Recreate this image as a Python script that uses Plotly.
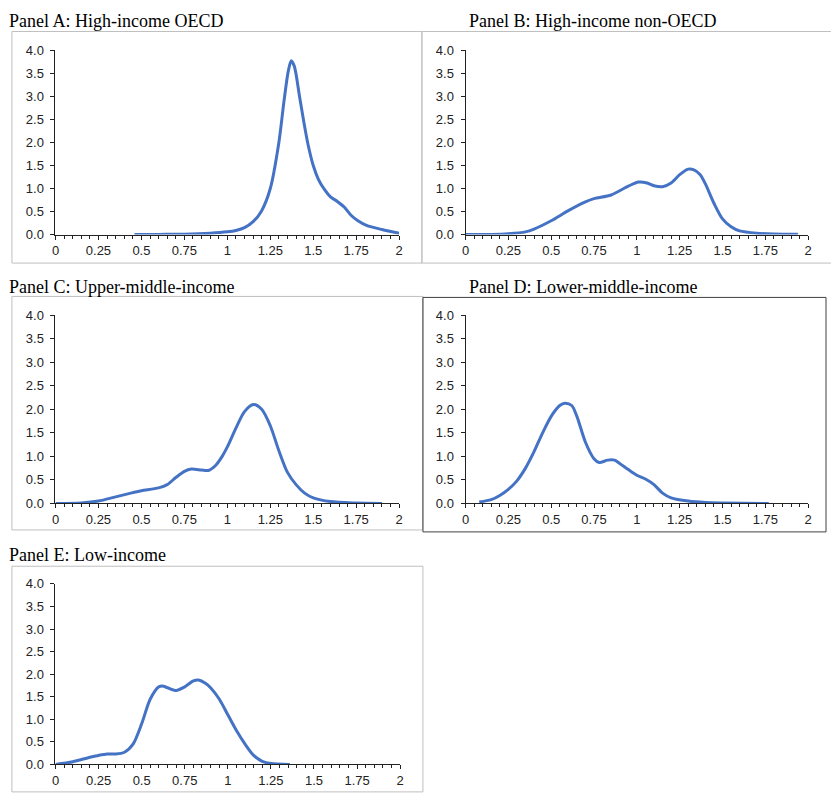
import plotly.graph_objects as go

W, H = 831, 795

# ---------------- data ----------------
panel_titles = [
    "Panel A: High-income OECD",
    "Panel B: High-income non-OECD",
    "Panel C: Upper-middle-income",
    "Panel D: Lower-middle-income",
    "Panel E: Low-income",
]

a_x = [0.46, 0.6, 0.75, 0.9, 1.0, 1.05, 1.1, 1.15, 1.2, 1.25, 1.3, 1.33, 1.355, 1.372, 1.39, 1.42, 1.445, 1.47, 1.5, 1.53, 1.565, 1.6, 1.64, 1.68, 1.72, 1.76, 1.81, 1.9, 2.0]
a_y = [0.0, 0.005, 0.01, 0.03, 0.06, 0.09, 0.15, 0.28, 0.52, 1.0, 2.0, 2.9, 3.55, 3.77, 3.65, 3.0, 2.45, 1.95, 1.5, 1.2, 0.98, 0.82, 0.72, 0.6, 0.42, 0.3, 0.2, 0.11, 0.03]

b_x = [0.0, 0.15, 0.25, 0.35, 0.4, 0.5, 0.6, 0.7, 0.75, 0.85, 0.95, 1.01, 1.06, 1.1, 1.15, 1.2, 1.25, 1.3, 1.33, 1.37, 1.4, 1.45, 1.5, 1.55, 1.6, 1.7, 1.8, 1.94]
b_y = [0.0, 0.005, 0.02, 0.06, 0.12, 0.3, 0.52, 0.71, 0.78, 0.86, 1.05, 1.14, 1.12, 1.06, 1.04, 1.12, 1.3, 1.42, 1.41, 1.3, 1.1, 0.68, 0.34, 0.17, 0.08, 0.03, 0.015, 0.01]

c_x = [0.0, 0.15, 0.25, 0.35, 0.45, 0.5, 0.6, 0.65, 0.7, 0.75, 0.79, 0.85, 0.89, 0.93, 0.97, 1.0, 1.05, 1.1, 1.152, 1.2, 1.25, 1.3, 1.35, 1.4, 1.45, 1.5, 1.6, 1.75, 1.9]
c_y = [0.0, 0.01, 0.05, 0.14, 0.23, 0.27, 0.33, 0.4, 0.55, 0.68, 0.73, 0.71, 0.7, 0.8, 1.0, 1.2, 1.6, 1.95, 2.1, 2.0, 1.65, 1.12, 0.66, 0.4, 0.22, 0.12, 0.04, 0.01, 0.0]

d_x = [0.08, 0.15, 0.2, 0.25, 0.3, 0.35, 0.4, 0.45, 0.5, 0.55, 0.58, 0.62, 0.65, 0.7, 0.75, 0.78, 0.83, 0.87, 0.9, 0.95, 1.0, 1.05, 1.1, 1.15, 1.2, 1.3, 1.4, 1.5, 1.77]
d_y = [0.03, 0.08, 0.17, 0.3, 0.48, 0.75, 1.1, 1.5, 1.85, 2.08, 2.13, 2.08, 1.85, 1.3, 0.95, 0.87, 0.92, 0.92, 0.85, 0.72, 0.6, 0.52, 0.4, 0.22, 0.12, 0.05, 0.02, 0.01, 0.0]

e_x = [0.0, 0.1, 0.2, 0.25, 0.3, 0.35, 0.4, 0.45, 0.5, 0.55, 0.6, 0.62, 0.65, 0.7, 0.75, 0.8, 0.83, 0.87, 0.9, 0.95, 1.0, 1.05, 1.1, 1.15, 1.2, 1.25, 1.36]
e_y = [0.0, 0.06, 0.16, 0.2, 0.23, 0.23, 0.27, 0.45, 0.9, 1.45, 1.72, 1.74, 1.7, 1.64, 1.72, 1.85, 1.87, 1.8, 1.7, 1.45, 1.1, 0.75, 0.45, 0.2, 0.07, 0.02, 0.0]

x_tickvals = [0, 0.25, 0.5, 0.75, 1, 1.25, 1.5, 1.75, 2]
x_ticktext = ["0", "0.25", "0.5", "0.75", "1", "1.25", "1.5", "1.75", "2"]
y_tickvals = [0, 0.5, 1.0, 1.5, 2.0, 2.5, 3.0, 3.5, 4.0]
y_ticktext = ["0.0", "0.5", "1.0", "1.5", "2.0", "2.5", "3.0", "3.5", "4.0"]

series = [(a_x, a_y), (b_x, b_y), (c_x, c_y), (d_x, d_y), (e_x, e_y)]

# ---------------- layout helpers (pixel -> paper) ----------------
def px(x):
    return x / W

def py(y):
    return 1 - y / H

# plot areas in pixels: (left, right, top, bottom)
areas = [
    (52, 399, 44, 232),
    (466, 812, 44, 232),
    (52, 399, 314, 506),
    (466, 812, 314, 506),
    (52, 400, 588, 772),
]
title_pos = [(3, 14), (467, 14), (3, 285), (467, 285), (3, 559)]
frames = [
    (8, 422, 25, 261, "#BFBFBF"),
    (422, 840, 25, 261, "#BFBFBF"),
    (8, 423, 295, 533, "#BFBFBF"),
    (423, 830, 296, 535, "#404040"),
    (8, 423, 570, 800, "#BFBFBF"),
]

BLUE = "#4472C4"
fig = go.Figure()
layout = dict(
    width=W, height=H,
    margin=dict(l=0, r=0, t=0, b=0),
    paper_bgcolor="white", plot_bgcolor="white",
    showlegend=False,
    font=dict(family="Liberation Sans, Arial, sans-serif", size=12, color="#222"),
)

for i, ((xs, ys), (l, r, t, b)) in enumerate(zip(series, areas)):
    n = "" if i == 0 else str(i + 1)
    fig.add_trace(go.Scatter(
        x=xs, y=ys, mode="lines", line=dict(color=BLUE, width=3, shape="spline", smoothing=0.8),
        xaxis="x" + n, yaxis="y" + n, hoverinfo="skip",
    ))
    layout["xaxis" + n] = dict(
        domain=[px(l), px(r)], anchor="y" + n, range=[0, 2],
        tickvals=x_tickvals, ticktext=x_ticktext,
        showline=True, linecolor="#222", linewidth=1,
        ticks="outside", ticklen=4, tickcolor="#222",
        minor=dict(dtick=0.05, tick0=0, ticks="outside", ticklen=3, tickcolor="#222"),
        showgrid=False, zeroline=False, fixedrange=True,
        tickfont=dict(size=13, color="#222"),
        ticklabelstandoff=0,
    )
    layout["yaxis" + n] = dict(
        domain=[py(b), py(t)], anchor="x" + n, range=[0, 4],
        tickvals=y_tickvals, ticktext=y_ticktext,
        showline=True, linecolor="#222", linewidth=1,
        ticks="outside", ticklen=4, tickcolor="#222",
        showgrid=False, zeroline=False, fixedrange=True,
        tickfont=dict(size=13, color="#222"),
        ticklabelstandoff=4,
    )

shapes = []
for (l, r, t, b, col) in frames:
    shapes.append(dict(type="rect", xref="paper", yref="paper",
                       x0=px(l), x1=px(r), y0=py(b), y1=py(t),
                       line=dict(color=col, width=1), layer="below"))
layout["shapes"] = shapes

annotations = []
for title, (tx, ty) in zip(panel_titles, title_pos):
    annotations.append(dict(text=title, xref="paper", yref="paper",
                            x=px(tx), y=py(ty), xanchor="left", yanchor="middle",
                            showarrow=False,
                            font=dict(family="Liberation Serif, Times New Roman, serif", size=18, color="black")))
layout["annotations"] = annotations

fig.update_layout(**layout)
fig.write_html("out.html")
